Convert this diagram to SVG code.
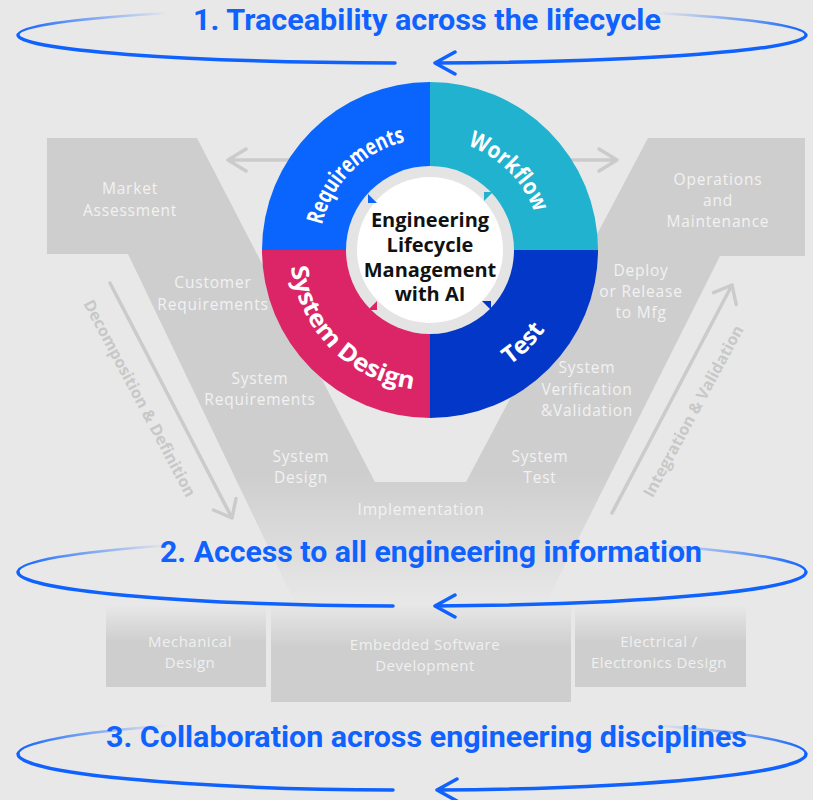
<svg xmlns="http://www.w3.org/2000/svg" width="813" height="800" viewBox="0 0 813 800">
<defs>
<style>
.lbl{font-family:"Open Sans","Liberation Sans",sans-serif;font-size:15.5px;fill:#f2f2f2;text-anchor:middle;letter-spacing:0.8px}
.blbl{font-family:"Open Sans","Liberation Sans",sans-serif;font-size:15px;fill:#f0f0f0;text-anchor:middle;letter-spacing:0.5px}
.title{font-family:Roboto,"Liberation Sans",sans-serif;font-weight:700;font-size:29px;fill:#0f62fe}
.seg{font-family:"Open Sans","Liberation Sans",sans-serif;font-weight:700;fill:#ffffff}
.ctr{font-family:"Open Sans","Liberation Sans",sans-serif;font-weight:700;font-size:20px;fill:#111111;text-anchor:middle}
.side{font-family:"Open Sans","Liberation Sans",sans-serif;font-weight:700;font-size:16px;fill:#c8c8c8;text-anchor:middle;dominant-baseline:central}
.garrow{fill:none;stroke:#cbcbcb;stroke-width:3.5;stroke-linecap:round;stroke-linejoin:round}
.front{fill:none;stroke:#0f62fe;stroke-width:3.5;stroke-linecap:round;stroke-linejoin:round}
.back{fill:none;stroke:url(#fade);stroke-width:2.5}
</style>
<linearGradient id="fade" gradientUnits="userSpaceOnUse" x1="18" y1="0" x2="806" y2="0">
<stop offset="0" stop-color="#0f62fe"/>
<stop offset="0.05" stop-color="#0f62fe" stop-opacity="0.7"/>
<stop offset="0.19" stop-color="#0f62fe" stop-opacity="0"/>
<stop offset="0.81" stop-color="#0f62fe" stop-opacity="0"/>
<stop offset="0.95" stop-color="#0f62fe" stop-opacity="0.7"/>
<stop offset="1" stop-color="#0f62fe"/>
</linearGradient>
<linearGradient id="vfade" gradientUnits="userSpaceOnUse" x1="0" y1="138" x2="0" y2="605">
<stop offset="0" stop-color="#cecece"/>
<stop offset="0.72" stop-color="#cecece"/>
<stop offset="1" stop-color="#cecece" stop-opacity="0"/>
</linearGradient>
<linearGradient id="boxfade" x1="0" y1="0" x2="0" y2="1">
<stop offset="0" stop-color="#cecece" stop-opacity="0"/>
<stop offset="0.45" stop-color="#cecece"/>
<stop offset="1" stop-color="#cecece"/>
</linearGradient>
</defs>

<rect width="813" height="800" fill="#e8e8e8"/>

<g id="v-shape">
<path d="M47 138 L197 138 L375 482 L466 482 L648 138 L805 138 L805 256 L720 256 L545 605 L296 605 L128 254 L47 254 Z" fill="url(#vfade)"/>
</g>

<g id="discipline-boxes">
<g id="box-mechanical"><rect x="106" y="605" width="160" height="82" fill="url(#boxfade)"/>
<text class="blbl" x="190" y="647">Mechanical</text><text class="blbl" x="190" y="668">Design</text></g>
<g id="box-software"><rect x="271" y="603" width="300" height="99" fill="url(#boxfade)"/>
<text class="blbl" x="425" y="650">Embedded Software</text><text class="blbl" x="425" y="671">Development</text></g>
<g id="box-electrical"><rect x="575" y="605" width="171" height="82" fill="url(#boxfade)"/>
<text class="blbl" x="659" y="647">Electrical /</text><text class="blbl" x="659" y="668">Electronics Design</text></g>
</g>

<g id="connectors">
<path class="garrow" d="M290 160 L228 160 M246 149 L228 160 L246 171"/>
<path class="garrow" d="M570 160 L617 160 M599 149 L617 160 L599 171"/>
<path class="garrow" d="M110 283 L232 518 M213.5 510 L232 518 L236 498.5"/>
<path class="garrow" d="M612 513 L732 285 M713.5 292.6 L732 285 L736.2 304.5"/>
</g>

<g id="side-labels">
<text class="side" transform="translate(140,398) rotate(62)">Decomposition &amp; Definition</text>
<text class="side" transform="translate(693,411) rotate(-61.6)">Integration &amp; Validation</text>
</g>

<g id="v-labels">
<g id="node-market"><text class="lbl" x="130" y="194">Market</text><text class="lbl" x="130" y="216">Assessment</text></g>
<g id="node-customer-req"><text class="lbl" x="213" y="288">Customer</text><text class="lbl" x="213" y="310">Requirements</text></g>
<g id="node-system-req"><text class="lbl" x="260" y="384">System</text><text class="lbl" x="260" y="405">Requirements</text></g>
<g id="node-system-design"><text class="lbl" x="301" y="462">System</text><text class="lbl" x="301" y="483">Design</text></g>
<g id="node-implementation"><text class="lbl" x="421" y="515">Implementation</text></g>
<g id="node-system-test"><text class="lbl" x="540" y="462">System</text><text class="lbl" x="540" y="483">Test</text></g>
<g id="node-system-vv"><text class="lbl" x="587" y="373">System</text><text class="lbl" x="587" y="395">Verification</text><text class="lbl" x="587" y="416">&amp;Validation</text></g>
<g id="node-deploy"><text class="lbl" x="641" y="276">Deploy</text><text class="lbl" x="641" y="297">or Release</text><text class="lbl" x="641" y="318">to Mfg</text></g>
<g id="node-operations"><text class="lbl" x="718" y="185">Operations</text><text class="lbl" x="718" y="206">and</text><text class="lbl" x="718" y="227">Maintenance</text></g>
</g>

<g id="elm-wheel">
<path d="M430 250 L262 250 A168 168 0 0 1 430 82 Z" fill="#0a64fe"/>
<path d="M430 250 L430 82 A168 168 0 0 1 598 250 Z" fill="#20b2ce"/>
<path d="M430 250 L598 250 A168 168 0 0 1 430 418 Z" fill="#0337c8"/>
<path d="M430 250 L430 418 A168 168 0 0 1 262 250 Z" fill="#dc2566"/>
<circle cx="430" cy="250" r="84" fill="#e4e4e4"/>
<circle cx="430" cy="250" r="73" fill="#ffffff"/>
<path fill="#0a64fe" d="M368 203 L368 194 L377 203 Z"/>
<path fill="#20b2ce" d="M484 192 L493 192 L484 201 Z"/>
<path fill="#0337c8" d="M491 301 L491 310 L482 301 Z"/>
<path fill="#dc2566" d="M377 310 L368 310 L377 301 Z"/>
<path id="p-req" d="M319 250 A111 111 0 0 1 430 139" fill="none"/>
<path id="p-wf" d="M430 139 A111 111 0 0 1 541 250" fill="none"/>
<path id="p-sd" d="M290 250 A140 140 0 0 0 430 390" fill="none"/>
<path id="p-test" d="M430 390 A140 140 0 0 0 570 250" fill="none"/>
<text class="seg" font-size="23"><textPath href="#p-req" startOffset="50%" text-anchor="middle" textLength="124" lengthAdjust="spacingAndGlyphs">Requirements</textPath></text>
<text class="seg" font-size="23"><textPath href="#p-wf" startOffset="50%" text-anchor="middle" textLength="98" lengthAdjust="spacingAndGlyphs">Workflow</textPath></text>
<text class="seg" font-size="24"><textPath href="#p-sd" startOffset="50%" text-anchor="middle" textLength="186" lengthAdjust="spacingAndGlyphs">System Design</textPath></text>
<text class="seg" font-size="24"><textPath href="#p-test" startOffset="50%" text-anchor="middle">Test</textPath></text>
<text class="ctr" x="430" y="227">Engineering</text>
<text class="ctr" x="430" y="252">Lifecycle</text>
<text class="ctr" x="430" y="277">Management</text>
<text class="ctr" x="430" y="301">with AI</text>
</g>

<g id="loop-1">
<path class="back" d="M18 35 A394 28 0 0 1 170 12.9 M655 13 A394 28 0 0 1 806 35"/>
<path class="front" d="M18 35 A394 28 0 0 0 395 63"/>
<path class="front" d="M806 35 A394 28 0 0 1 435 63 M455 52 L435 63 L455 74"/>
<text class="title" x="193" y="30" textLength="468" lengthAdjust="spacingAndGlyphs">1. Traceability across the lifecycle</text>
</g>
<g id="loop-2">
<path class="back" d="M18 572 A394 34 0 0 1 170 545.2 M655 545.2 A394 34 0 0 1 806 572"/>
<path class="front" d="M18 572 A394 34 0 0 0 393 606"/>
<path class="front" d="M806 572 A394 34 0 0 1 435 606 M455 595 L435 606 L455 617"/>
<text class="title" x="160" y="562" textLength="542" lengthAdjust="spacingAndGlyphs">2. Access to all engineering information</text>
</g>
<g id="loop-3">
<path class="back" d="M18 754 A394 36 0 0 1 170 725.6 M655 725.6 A394 36 0 0 1 806 754"/>
<path class="front" d="M18 754 A394 36 0 0 0 393 790"/>
<path class="front" d="M806 754 A394 36 0 0 1 437 790 M457 779 L437 790 L457 801"/>
<text class="title" x="106" y="747" textLength="641" lengthAdjust="spacingAndGlyphs">3. Collaboration across engineering disciplines</text>
</g>
</svg>
